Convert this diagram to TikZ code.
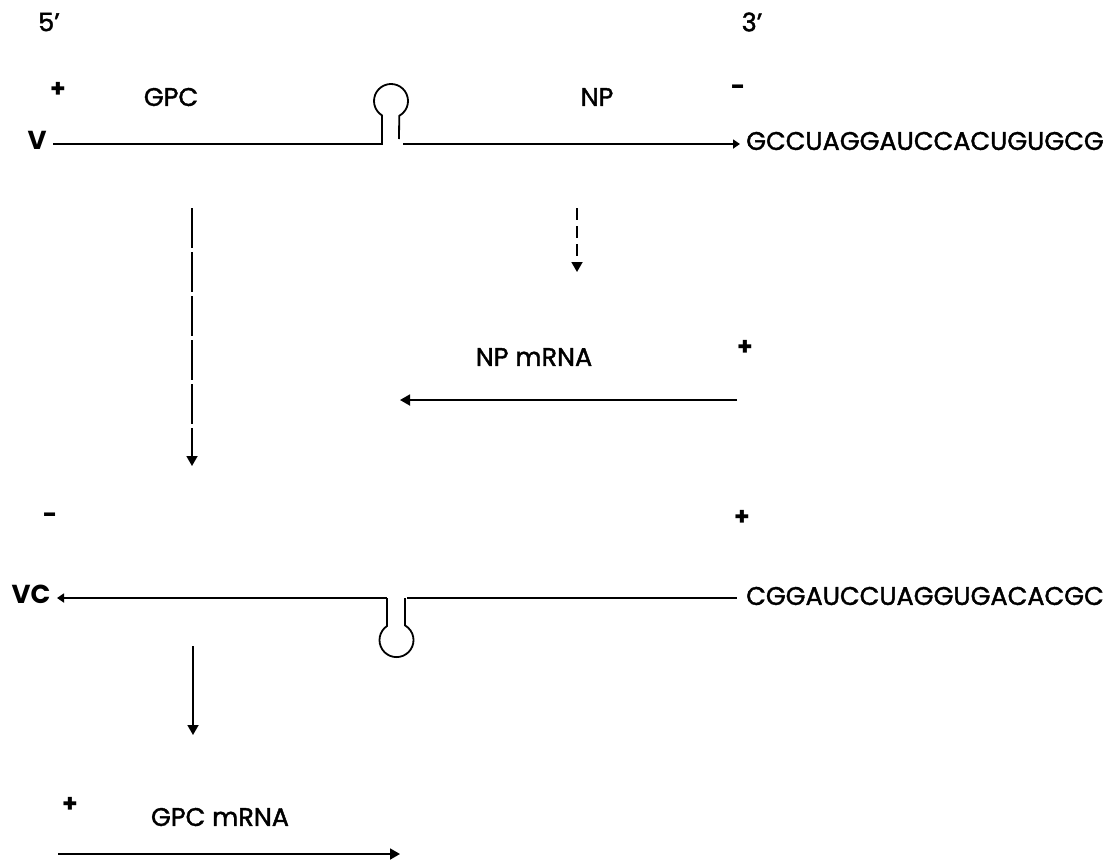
\documentclass[tikz,border=0pt]{standalone}
\usepackage{fontspec}
\setmainfont{Poppins}
\newfontfamily\heavy{Poppins}[FakeBold=1.6, Ligatures=TeX]
\usetikzlibrary{arrows.meta}
\begin{document}
\begin{tikzpicture}[x=1pt,y=-1pt,
  strand/.style={line width=1.8pt},
  bigtip/.style={-{Triangle[width=11pt,length=10pt]}},
  smalltip/.style={-{Triangle[width=9pt,length=7pt]}},
  lbl/.style={font=\heavy\fontsize{25.5}{26}\selectfont, inner sep=0pt},
  bold/.style={font=\fontsize{26}{26}\selectfont\bfseries, inner sep=0pt},
  sgn/.style={font=\fontsize{25}{25}\selectfont\bfseries, inner sep=0pt},
  brokenA/.style={strand, dash pattern=on 40pt off 4pt},
  brokenB/.style={strand, dash pattern=on 12pt off 6pt}]
\useasboundingbox (0,0) rectangle (1109,863);

% labels
\node[lbl] (five) at (49,22) {5’};
\node[lbl] (three) at (752,22) {3’};
\node[sgn] (p1) at (58,90) {+};
\node[lbl] (gpc) at (171,97) {GPC};
\node[lbl] (np) at (597,97) {NP};
\node[sgn] (m1) at (738,90) {-};
\node[bold] (v) at (37,140) {V};
\node[lbl, anchor=west] (seq1) at (746,141) {GCCUAGGAUCCACUGUGCG};

\node[lbl] (npm) at (534,357) {NP mRNA};
\node[sgn] (p2) at (745,348) {+};

\node[sgn] (m2) at (50,518) {-};
\node[sgn] (p3) at (742,518) {+};
\node[bold] (vc) at (31,594) {VC};
\node[lbl, anchor=west] (seq2) at (746,596) {CGGAUCCUAGGUGACACGC};

\node[sgn] (p4) at (70,805) {+};
\node[lbl] (gpcm) at (220,817) {GPC mRNA};

% coordinates
\coordinate (t1) at (53,144);
\coordinate (t2) at (382,144);
\coordinate (t3) at (403,144);
\coordinate (t4) at (740,144);
\coordinate (b1) at (57,598);
\coordinate (b2) at (387,598);
\coordinate (b3) at (407,598);
\coordinate (b4) at (737,598);

% top strand with hairpin
\draw[strand] (t1) -- (t2) -- (382,115.4) arc[start angle=122, end angle=421, radius=17] -- (399,139);
\draw[strand, smalltip] (t3) -- (t4);

% bottom strand with hairpin
\draw[strand, smalltip] (b2) -- (b1);
\draw[strand] (b2) -- (387,626) arc[start angle=236, end angle=-60, radius=17] -- (405,598);
\draw[strand] (b3) -- (b4);

% vertical arrows
\coordinate (va1) at (192,208);
\coordinate (va2) at (192,466);
\draw[brokenA, bigtip] (va1) -- (va2);
\coordinate (vb1) at (577,208);
\coordinate (vb2) at (577,272);
\draw[brokenB, bigtip] (vb1) -- (vb2);
\coordinate (vc1) at (193,646);
\coordinate (vc2) at (193,735);
\draw[strand, bigtip] (vc1) -- (vc2);

% mRNA arrows
\coordinate (n1) at (737,400);
\coordinate (n2) at (400,400);
\draw[strand, bigtip] (n1) -- (n2);
\coordinate (g1) at (58,854);
\coordinate (g2) at (400,854);
\draw[strand, bigtip] (g1) -- (g2);
\end{tikzpicture}
\end{document}
